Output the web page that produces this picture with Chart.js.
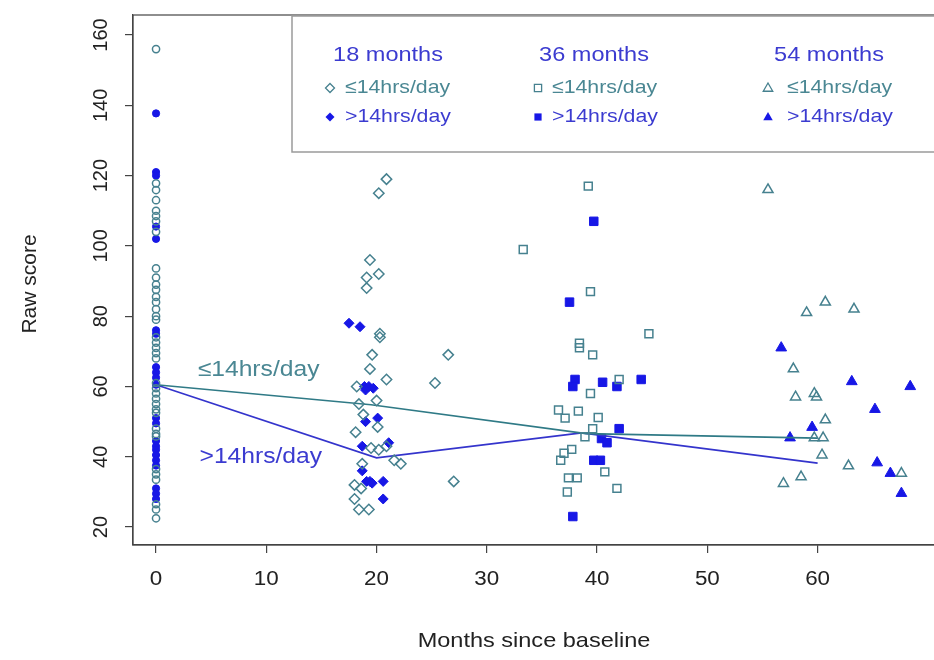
<!DOCTYPE html>
<html>
<head>
<meta charset="utf-8">
<script src="https://cdn.jsdelivr.net/npm/chart.js@4.4.0/dist/chart.umd.min.js"></script>
<style>
  html, body { margin: 0; padding: 0; background: #fff; overflow: hidden; }
  #wrap { width: 950px; height: 660px; }
</style>
</head>
<body>
<div id="wrap"><canvas id="scoreChart"></canvas></div>
<script>
// axis ticks
const xTicks = [0, 10, 20, 30, 40, 50, 60];
const yTicks = [20, 40, 60, 80, 100, 120, 140, 160];

// baseline (month 0) raw scores
const baselineOpen = [156, 117.8, 115.9, 113, 110, 108.5, 107, 104, 93.6, 91, 89, 87.5, 85.5, 84, 82, 80, 79, 74, 72.5, 71, 69.5, 68,
  61, 59.5, 58, 56.5, 55, 53.5, 52.5, 48, 46.5, 45.8, 36.5, 35, 33.5, 26.5, 25, 22.5];
const baselineFilled = [137.7, 121, 120, 105.5, 102, 76, 75, 65.5, 64, 62.5, 60.5, 51, 49.5, 44.5, 43, 42, 40.5, 39, 37.5, 31, 29.5, 28];

// 18 months
const m18OpenX = [20.9, 20.2, 19.4, 20.2, 19.1, 19.1, 20.3, 20.3, 19.6, 19.4, 20.9, 18.2, 20.0, 18.4, 18.8, 20.1, 18.1, 19.5, 20.2, 20.9,
  21.6, 22.2, 18.7, 18.0, 18.6, 18.0, 18.4, 19.3, 25.3, 26.5, 27.0];
const m18OpenY = [119, 115, 96, 92, 91, 88, 75, 74, 69, 65, 62, 60, 56, 55, 52, 48.5, 47, 42.5, 42, 43, 39, 38, 38, 32, 31, 28, 25, 25, 61, 69, 33];
const m18FilledX = [17.5, 18.5, 18.9, 19.3, 19.7, 19.0, 19.0, 20.1, 18.7, 21.1, 18.7, 19.1, 19.4, 19.6, 20.6, 20.6];
const m18FilledY = [78, 77, 60, 60, 59.5, 59, 50, 51, 43, 44, 36, 33, 33, 32.5, 33, 28];

// 36 months
const m36OpenX = [39.2, 33.3, 39.4, 44.7, 38.4, 38.4, 39.6, 42.0, 39.4, 36.5, 37.1, 38.3, 40.1, 39.6, 38.9, 37.7, 37.0, 36.7, 40.7, 37.4, 38.2, 41.8, 37.3];
const m36OpenY = [117, 99, 87, 75, 72.3, 71, 69, 62, 58, 53.3, 51, 53, 51.2, 48, 45.7, 42.1, 41, 39, 35.7, 34, 34, 31, 30];
const m36FilledX = [39.7, 37.5, 38.0, 37.8, 40.5, 41.8, 44.0, 42.0, 40.4, 40.9, 39.7, 40.3, 37.8];
const m36FilledY = [107, 84, 62, 60, 61.2, 60, 62, 48, 45.2, 44, 39, 39, 23];

// 54 months
const m54OpenX = [55.5, 60.7, 59.0, 63.3, 57.8, 58.0, 59.7, 59.9, 60.7, 59.7, 60.5, 60.4, 62.8, 67.6, 58.5, 56.9];
const m54OpenY = [116, 84, 81, 82, 65, 57, 58, 57, 50.5, 45.4, 45.4, 40.5, 37.4, 35.3, 34.3, 32.4];
const m54FilledX = [56.7, 63.1, 68.4, 65.2, 59.5, 57.5, 65.4, 66.6, 67.6];
const m54FilledY = [71, 61.4, 60, 53.5, 48.4, 45.4, 38.3, 35.3, 29.6];

// group means
const lowMeanX = [0, 19.5, 39, 60];
const lowMeanY = [60.5, 54.8, 46.6, 45.3];
const highMeanX = [0, 20, 38.6, 60];
const highMeanY = [60.5, 39.7, 46.8, 38.2];

const teal = '#46818f';
const tealText = '#4a8793';
const blue = '#1717e6';
const blueText = '#3b3bd0';
const axisColor = '#444';
const font = '"Liberation Sans", Arial, sans-serif';
const stretch = 1.12; // text in the original is a bit wide

function pts(xs, ys) { return ys.map((v, i) => ({ x: xs[i], y: v })); }
function zeroPts(ys) { return ys.map(v => ({ x: 0, y: v })); }

function openSet(data, style, radius) {
  return { data, pointStyle: style, pointRadius: radius, backgroundColor: 'rgba(255,255,255,0)',
    borderColor: teal, pointBorderWidth: 1.5, showLine: false };
}
function filledSet(data, style, radius) {
  return { data, pointStyle: style, pointRadius: radius, backgroundColor: blue,
    borderColor: blue, pointBorderWidth: 1, showLine: false };
}
function lineSet(data, color) {
  return { data, showLine: true, pointRadius: 0, borderColor: color, borderWidth: 1.6, fill: false };
}

function wideText(ctx, str, x, y, align) {
  ctx.save();
  ctx.translate(x, y);
  ctx.scale(stretch, 1);
  ctx.textAlign = align || 'center';
  ctx.fillText(str, 0, 0);
  ctx.restore();
}

function marker(ctx, style, x, y, r, filled) {
  ctx.beginPath();
  if (style === 'diamond') {
    ctx.moveTo(x, y - r); ctx.lineTo(x + r, y); ctx.lineTo(x, y + r); ctx.lineTo(x - r, y);
  } else if (style === 'square') {
    ctx.rect(x - r, y - r, 2 * r, 2 * r);
  } else {
    ctx.moveTo(x, y - r); ctx.lineTo(x + r * 0.95, y + r * 0.65); ctx.lineTo(x - r * 0.95, y + r * 0.65);
  }
  ctx.closePath();
  if (filled) { ctx.fillStyle = blue; ctx.fill(); }
  else { ctx.strokeStyle = teal; ctx.lineWidth = 1.3; ctx.stroke(); }
}

const framePlugin = {
  id: 'frame',
  afterDraw(chart) {
    const { ctx, chartArea: a, scales: { x, y } } = chart;
    ctx.save();
    ctx.strokeStyle = axisColor;
    ctx.lineWidth = 1.2;
    ctx.strokeRect(a.left, a.top, a.right - a.left, a.bottom - a.top);

    ctx.fillStyle = '#222';
    ctx.font = '20px ' + font;
    ctx.textAlign = 'center';
    ctx.textBaseline = 'middle';
    xTicks.forEach(v => wideText(ctx, String(v), x.getPixelForValue(v), 579));
    yTicks.forEach(v => {
      ctx.save();
      ctx.translate(101, y.getPixelForValue(v));
      ctx.rotate(-Math.PI / 2);
      ctx.fillText(String(v), 0, 0);
      ctx.restore();
    });
    ctx.font = '21px ' + font;
    wideText(ctx, 'Months since baseline', 534, 641);
    ctx.save();
    ctx.translate(30, (a.top + a.bottom) / 2 + 4);
    ctx.rotate(-Math.PI / 2);
    ctx.fillText('Raw score', 0, 0);
    ctx.restore();

    // line labels
    ctx.font = '22px ' + font;
    ctx.fillStyle = tealText;
    wideText(ctx, '≤14hrs/day', x.getPixelForValue(9.3), y.getPixelForValue(64.7));
    ctx.fillStyle = blueText;
    wideText(ctx, '>14hrs/day', x.getPixelForValue(9.5), y.getPixelForValue(39.9));

    // legend
    ctx.strokeStyle = '#9a9a9a';
    ctx.lineWidth = 1.5;
    ctx.strokeRect(292, a.top + 1, 700, 136);
    const cols = [
      { title: '18 months', cx: 388, mx: 330, tx: 345, style: 'diamond', r: 4.5 },
      { title: '36 months', cx: 594, mx: 538, tx: 552, style: 'square', r: 3.6 },
      { title: '54 months', cx: 829, mx: 768, tx: 787, style: 'triangle', r: 5 }
    ];
    cols.forEach(c => {
      ctx.font = '21px ' + font;
      ctx.fillStyle = blueText;
      wideText(ctx, c.title, c.cx, 55, 'center');
      ctx.font = '19px ' + font;
      ctx.fillStyle = tealText;
      wideText(ctx, '≤14hrs/day', c.tx, 88, 'left');
      ctx.fillStyle = blueText;
      wideText(ctx, '>14hrs/day', c.tx, 117, 'left');
      marker(ctx, c.style, c.mx, 88, c.r, false);
      marker(ctx, c.style, c.mx, 117, c.r, true);
    });
    ctx.restore();
  }
};

const fixedTicks = vals => scale => { scale.ticks = vals.map(v => ({ value: v })); };

new Chart(document.getElementById('scoreChart'), {
  type: 'scatter',
  data: {
    datasets: [
      openSet(zeroPts(baselineOpen), 'circle', 3.6),
      filledSet(zeroPts(baselineFilled), 'circle', 3.6),
      openSet(pts(m18OpenX, m18OpenY), 'rectRot', 5.2),
      openSet(pts(m36OpenX, m36OpenY), 'rect', 5.6),
      openSet(pts(m54OpenX, m54OpenY), 'triangle', 5.8),
      lineSet(pts(lowMeanX, lowMeanY), '#2f7a86'),
      lineSet(pts(highMeanX, highMeanY), '#3434cc'),
      filledSet(pts(m18FilledX, m18FilledY), 'rectRot', 5),
      filledSet(pts(m36FilledX, m36FilledY), 'rect', 6),
      filledSet(pts(m54FilledX, m54FilledY), 'triangle', 6.2)
    ]
  },
  options: {
    responsive: true,
    maintainAspectRatio: false,
    animation: false,
    layout: { padding: { top: 15, right: 10, left: 0, bottom: 0 } },
    plugins: { legend: { display: false }, tooltip: { enabled: false } },
    scales: {
      x: {
        type: 'linear', min: -2.09, max: 71.1,
        afterBuildTicks: fixedTicks(xTicks),
        afterFit: s => { s.height = 115; },
        ticks: { display: false },
        grid: { drawOnChartArea: false, drawTicks: true, tickLength: 8, color: axisColor, lineWidth: 1.2 },
        border: { display: true, color: axisColor, width: 1.2 }
      },
      y: {
        type: 'linear', min: 14.9, max: 165.7,
        afterBuildTicks: fixedTicks(yTicks),
        afterFit: s => { s.width = 133; },
        ticks: { display: false },
        grid: { drawOnChartArea: false, drawTicks: true, tickLength: 8, color: axisColor, lineWidth: 1.2 },
        border: { display: true, color: axisColor, width: 1.2 }
      }
    }
  },
  plugins: [framePlugin]
});
</script>
</body>
</html>
